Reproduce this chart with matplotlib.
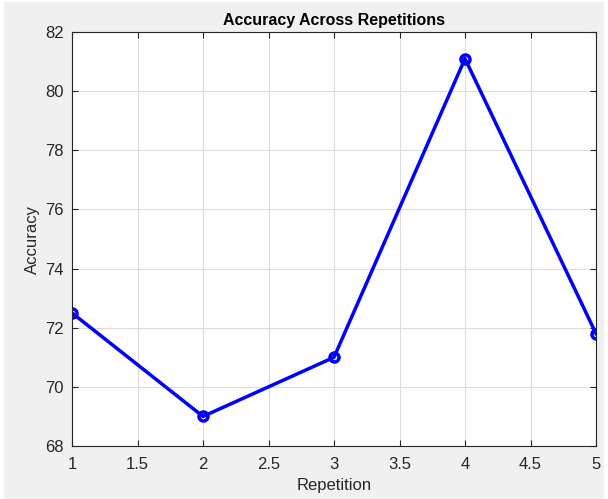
import matplotlib.pyplot as plt
from matplotlib.patches import Rectangle

# data
repetitions = [1, 2, 3, 4, 5]
accuracy = [72.5, 69.0, 71.0, 81.1, 71.8]
x_ticks = [1, 1.5, 2, 2.5, 3, 3.5, 4, 4.5, 5]
x_tick_labels = ['1', '1.5', '2', '2.5', '3', '3.5', '4', '4.5', '5']
y_ticks = [68, 70, 72, 74, 76, 78, 80, 82]

plt.rcParams['font.family'] = ['Liberation Sans', 'DejaVu Sans']

fig = plt.figure(figsize=(6.08, 4.99), dpi=100)
fig.patch.set_facecolor('white')
# matlab-like gray figure background (white sliver at the edges)
fig.patches.append(Rectangle((4 / 608, 0), 600 / 608, 497 / 499,
                             transform=fig.transFigure, facecolor='#f0f0f0',
                             edgecolor='none', zorder=-10))

ax = fig.add_axes([72 / 608, 53 / 499, 524 / 608, 414 / 499])
ax.plot(repetitions, accuracy, color='blue', linewidth=2.5, marker='o',
        markersize=6.5, markerfacecolor='none', markeredgewidth=2.5)

ax.set_xlim(1, 5)
ax.set_ylim(68, 82)
ax.set_xticks(x_ticks)
ax.set_xticklabels(x_tick_labels)
ax.set_yticks(y_ticks)

ax.grid(True, color='#dcdcdc', linewidth=0.8)
ax.set_axisbelow(True)
ax.tick_params(direction='in', top=True, right=True, length=4, width=0.8,
               labelsize=12, colors='#262626')
ax.tick_params(axis='x', pad=8)
ax.tick_params(axis='y', pad=6)
for s in ax.spines.values():
    s.set_color('#262626')
    s.set_linewidth(0.8)

ax.set_title('Accuracy Across Repetitions', fontsize=11.5, fontweight='bold', pad=5)
ax.set_xlabel('Repetition', fontsize=12, color='#262626', labelpad=4)
ax.set_ylabel('Accuracy', fontsize=12, color='#262626', labelpad=4)

plt.savefig('out.png', dpi=100)
